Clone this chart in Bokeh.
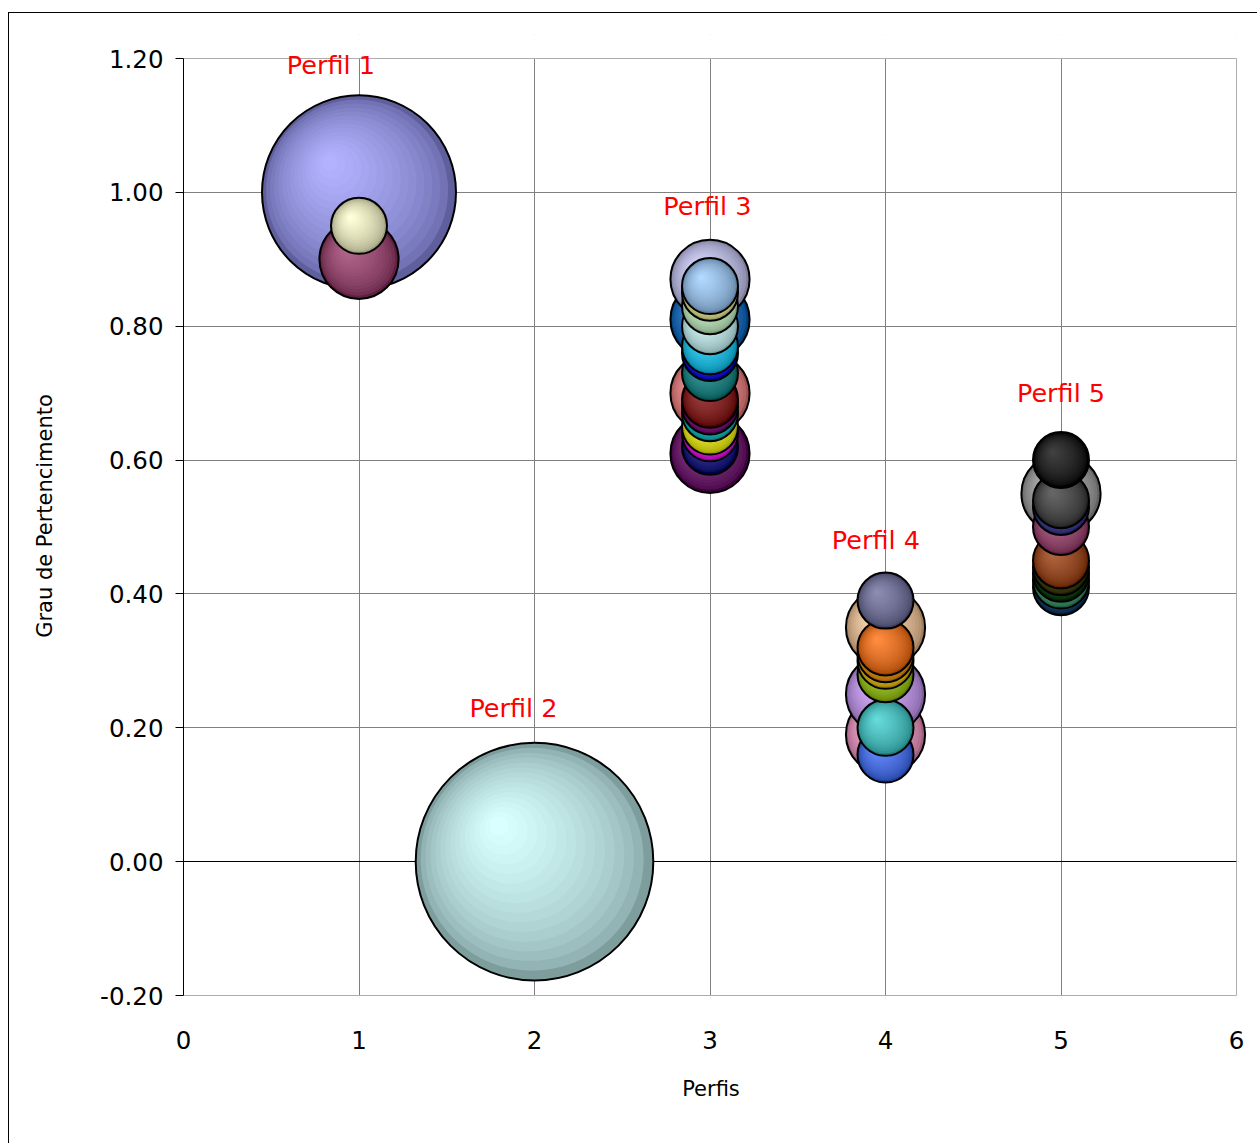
import numpy as np
from bokeh.plotting import figure
from bokeh.models import (ColumnDataSource, NumeralTickFormatter, FixedTicker, Grid, Range1d,
                          Label, BoxAnnotation)
from bokeh.embed import file_html
from bokeh.resources import INLINE

# ---------------- data ----------------
perfil1_x = [1, 1, 1]
perfil1_y = [1.00, 0.90, 0.95]
perfil1_size = [12, 2, 1]
perfil1_colors = ["#9999FF", "#993366", "#FFFFCC"]

perfil2_x = [2]
perfil2_y = [0.00]
perfil2_size = [18]
perfil2_colors = ["#CCFFFF"]

perfil3_x = [3] * 17
perfil3_y = [0.87, 0.81, 0.70, 0.61, 0.86, 0.85, 0.83, 0.80, 0.77, 0.76, 0.73,
             0.69, 0.68, 0.67, 0.65, 0.64, 0.62]
perfil3_size = [2, 2, 2, 2, 1, 1, 1, 1, 1, 1, 1, 1, 1, 1, 1, 1, 1]
perfil3_colors = ["#CCCCFF", "#0066CC", "#FF8080", "#660066", "#99CCFF", "#FFFF99",
                  "#CCFFCC", "#CCFFFF", "#00CCFF", "#0000FF", "#008080", "#800000",
                  "#800080", "#00CCCC", "#FFFF00", "#FF00FF", "#000080"]

perfil4_x = [4] * 10
perfil4_y = [0.35, 0.25, 0.19, 0.39, 0.32, 0.31, 0.30, 0.28, 0.20, 0.16]
perfil4_size = [2, 2, 2, 1, 1, 1, 1, 1, 1, 1]
perfil4_colors = ["#FFCC99", "#CC99FF", "#FF99CC", "#666699", "#FF6600", "#FF9900",
                  "#FFCC00", "#99CC00", "#33CCCC", "#3366FF"]

perfil5_x = [5] * 10
perfil5_y = [0.55, 0.60, 0.54, 0.53, 0.50, 0.45, 0.44, 0.43, 0.42, 0.41]
perfil5_size = [2, 1, 1, 1, 1, 1, 1, 1, 1, 1]
perfil5_colors = ["#A0A0A0", "#000000", "#333333", "#333399", "#993366", "#993300",
                  "#333300", "#003300", "#339966", "#003366"]

label_text = ["Perfil 1", "Perfil 2", "Perfil 3", "Perfil 4", "Perfil 5"]
label_x = [0.84, 1.88, 2.985, 3.945, 5.0]
label_y = [1.19, 0.23, 0.98, 0.48, 0.70]

x_ticks = [0, 1, 2, 3, 4, 5, 6]
y_ticks = [-0.2, 0.0, 0.2, 0.4, 0.6, 0.8, 1.0, 1.2]

# ---------------- layout constants ----------------
X0, X1 = 0, 6
Y0, Y1 = -0.2, 1.2
W, H = 1249, 1131
BL = 174
PLOT_W = 1053                   # width of the 0 .. 6 plot area in px
PLOT_H = 937                    # height of the -0.2 .. 1.2 plot area in px
PX_X = PLOT_W / (X1 - X0)
PX_Y = PLOT_H / (Y1 - Y0)
EXTRA_TOP = 24                  # room above the plot area for the top label
PAD = 2                         # keeps the border lines off the clipping edge
X1_EXT = X1 + PAD / PX_X
Y0_EXT = Y0 - PAD / PX_Y
Y1_EXT = Y1 + EXTRA_TOP / PX_Y
BR = W - BL - PLOT_W - PAD
BB = 149 - PAD
BT = H - BB - PLOT_H - PAD - EXTRA_TOP
BASE_R = 28.0
N_LAYERS = 16


def hex2rgb(h):
    h = h.lstrip("#")
    return np.array([int(h[i:i + 2], 16) for i in (0, 2, 4)], dtype=float)


def rgb2hex(c):
    c = np.clip(np.round(c), 0, 255).astype(int)
    return "#%02x%02x%02x" % tuple(c)


# build shaded bubbles (layers drawn in order, per bubble)
xs, ys, sz, fc, fa, la, lw = [], [], [], [], [], [], []
groups = [
    (perfil1_x, perfil1_y, perfil1_size, perfil1_colors),
    (perfil2_x, perfil2_y, perfil2_size, perfil2_colors),
    (perfil3_x, perfil3_y, perfil3_size, perfil3_colors),
    (perfil4_x, perfil4_y, perfil4_size, perfil4_colors),
    (perfil5_x, perfil5_y, perfil5_size, perfil5_colors),
]
for gx, gy, gs, gc in groups:
    order = sorted(range(len(gy)), key=lambda i: (-gs[i], gy[i]))
    for i in order:
        r = BASE_R * np.sqrt(gs[i])
        base = hex2rgb(gc[i])
        edge = base * 0.62
        hl = base + (255 - base) * 0.25
        for k in range(N_LAYERS):
            t = k / (N_LAYERS - 1)
            f = t ** 0.55
            col = edge + (hl - edge) * f
            rk = r * (1 - 0.92 * t)
            dx = -0.30 * r * t / PX_X
            dy = 0.30 * r * t / PX_Y
            xs.append(gx[i] + dx)
            ys.append(gy[i] + dy)
            sz.append(2 * rk)
            fc.append(rgb2hex(col))
            fa.append(1.0)
            la.append(0.0)
            lw.append(0.0)
        # outline
        xs.append(gx[i])
        ys.append(gy[i])
        sz.append(2 * r)
        fc.append("#000000")
        fa.append(0.0)
        la.append(1.0)
        lw.append(2.0)

src = ColumnDataSource(dict(x=xs, y=ys, size=sz, fill=fc, fa=fa, la=la, lw=lw))

p = figure(width=W, height=H, output_backend="svg", toolbar_location=None,
           x_range=Range1d(X0, X1_EXT), y_range=Range1d(Y0_EXT, Y1_EXT),
           min_border_left=BL, min_border_right=BR, min_border_top=BT, min_border_bottom=BB,
           background_fill_color="white", border_fill_color="white")
p.margin = (12, 0, 0, 8)
p.styles = {"border-left": "1px solid #000", "border-top": "1px solid #000"}

p.outline_line_color = None

# grids
p.xgrid.ticker = FixedTicker(ticks=x_ticks)
p.ygrid.ticker = FixedTicker(ticks=y_ticks)
p.xgrid.grid_line_color = "#808080"
p.ygrid.grid_line_color = "#808080"
zero_grid = Grid(dimension=1, ticker=FixedTicker(ticks=[0.0]), grid_line_color="#000000",
                 grid_line_width=1)
p.add_layout(zero_grid)

# blank strip around the plot area (room for the top label) and plot-area border
p.add_layout(BoxAnnotation(bottom=Y1, top=Y1_EXT + 1.0, fill_color="white", fill_alpha=1.0,
                           line_color=None, level="underlay"))
p.add_layout(BoxAnnotation(left=X1, right=X1_EXT + 1.0, fill_color="white", fill_alpha=1.0,
                           line_color=None, level="underlay"))
p.add_layout(BoxAnnotation(top=Y0, bottom=Y0_EXT - 1.0, fill_color="white", fill_alpha=1.0,
                           line_color=None, level="underlay"))
p.add_layout(BoxAnnotation(left=X0, right=X1, bottom=Y0, top=Y1, fill_alpha=0.0,
                           line_color="#808080", line_width=1, level="underlay"))

# axes
font = "DejaVu Sans"
p.xaxis.ticker = FixedTicker(ticks=x_ticks)
p.yaxis.ticker = FixedTicker(ticks=y_ticks)
p.yaxis.formatter = NumeralTickFormatter(format="0.00")
p.yaxis.bounds = (Y0, Y1)
for ax in (p.xaxis[0], p.yaxis[0]):
    ax.major_label_text_font = font
    ax.major_label_text_font_size = "24.5px"
    ax.major_label_text_color = "#000000"
    ax.axis_label_text_font = font
    ax.axis_label_text_font_size = "21px"
    ax.axis_label_text_font_style = "normal"
    ax.axis_label_text_color = "#000000"
    ax.minor_tick_line_color = None

p.xaxis.axis_line_color = None
p.xaxis.major_tick_line_color = None
p.xaxis.major_label_standoff = 29 - PAD
p.xaxis.axis_label = "Perfis"
p.xaxis.axis_label_standoff = 25

p.yaxis.axis_line_color = "#000000"
p.yaxis.axis_line_width = 1
p.yaxis.major_tick_line_color = "#000000"
p.yaxis.major_tick_in = 0
p.yaxis.major_tick_out = 8
p.yaxis.major_label_standoff = 12
p.yaxis.axis_label = "Grau de Pertencimento"
p.yaxis.axis_label_standoff = 40

# bubbles
p.scatter(x="x", y="y", size="size", marker="circle", fill_color="fill", fill_alpha="fa",
          line_color="#000000", line_alpha="la", line_width="lw", source=src)

# labels
for lx, ly, lt in zip(label_x, label_y, label_text):
    p.add_layout(Label(x=lx, y=ly, text=lt, text_font=font, text_font_size="25.5px",
                       text_color="#FF0000", text_align="center", text_baseline="middle"))

open("out.html", "w").write(file_html(p, INLINE))
